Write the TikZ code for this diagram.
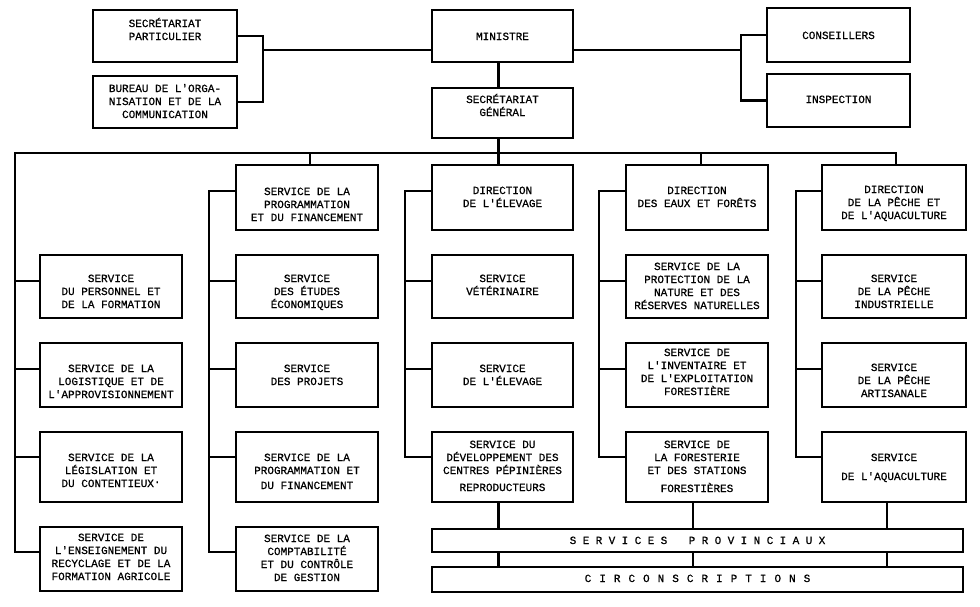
\documentclass[tikz,border=0pt]{standalone}
\usepackage{fontspec}
\newfontfamily\plotfont[FakeBold=0.7]{Liberation Mono}
\newcommand\lsA{\hspace{6.4pt}}
\newcommand\lsB{\hspace{8pt}}
\newcommand\mybox[7]{%
  \node[box, minimum width={(#4)-(#2)}, minimum height={(#5)-(#3)}] (#1) at ({((#2)+(#4))/2},{((#3)+(#5))/2}) {};
  \node[txt, anchor=north] (#1t) at ({((#2)+(#4))/2},{(#6)-6.2}) {\rule{0pt}{10pt}#7};
}
\tikzset{
  box/.style={draw, line width=2.4pt, inner sep=0pt},
  txt/.style={font=\plotfont\fontsize{11}{13}\selectfont, align=center, inner sep=0pt},
  ln/.style={line width=2.2pt, line join=miter}
}
\begin{document}
\begin{tikzpicture}[x=1pt,y=-1pt]
\useasboundingbox (0,0) rectangle (980,606);
% top level
\mybox{sp}{93}{10}{237}{62}{23}{SECRÉTARIAT\\PARTICULIER}
\mybox{bu}{93}{76}{237}{128}{88}{BUREAU DE L'ORGA-\\NISATION ET DE LA\\COMMUNICATION}
\mybox{min}{432}{10}{573}{62}{36}{MINISTRE}
\mybox{sg}{432}{88}{573}{138}{99}{SECRÉTARIAT\\GÉNÉRAL}
\mybox{cons}{767}{8}{910}{62}{35}{CONSEILLERS}
\mybox{insp}{767}{74}{910}{127}{99}{INSPECTION}
% row 0
\mybox{r0c2}{236}{165}{378}{230}{191}{SERVICE DE LA\\PROGRAMMATION\\ET DU FINANCEMENT}
\mybox{r0c3}{432}{165}{573}{230}{190}{DIRECTION\\DE L'ÉLEVAGE}
\mybox{r0c4}{626}{165}{768}{230}{190}{DIRECTION\\DES EAUX ET FORÊTS}
\mybox{r0c5}{822}{165}{966}{230}{189}{DIRECTION\\DE LA PÊCHE ET\\DE L'AQUACULTURE}
% row 1
\mybox{r1c1}{40}{255}{182}{318}{278}{SERVICE\\DU PERSONNEL ET\\DE LA FORMATION}
\mybox{r1c2}{236}{255}{378}{318}{278}{SERVICE\\DES ÉTUDES\\ÉCONOMIQUES}
\mybox{r1c3}{432}{255}{573}{318}{278}{SERVICE\\VÉTÉRINAIRE}
\mybox{r1c4}{626}{255}{768}{318}{266}{SERVICE DE LA\\PROTECTION DE LA\\NATURE ET DES\\RÉSERVES NATURELLES}
\mybox{r1c5}{822}{255}{966}{318}{278}{SERVICE\\DE LA PÊCHE\\INDUSTRIELLE}
% row 2
\mybox{r2c1}{40}{343}{182}{407}{368}{SERVICE DE LA\\LOGISTIQUE ET DE\\L'APPROVISIONNEMENT}
\mybox{r2c2}{236}{343}{378}{407}{368}{SERVICE\\DES PROJETS}
\mybox{r2c3}{432}{343}{573}{407}{368}{SERVICE\\DE L'ÉLEVAGE}
\mybox{r2c4}{626}{343}{768}{407}{352}{SERVICE DE\\L'INVENTAIRE ET\\DE L'EXPLOITATION\\FORESTIÈRE}
\mybox{r2c5}{822}{343}{966}{407}{367}{SERVICE\\DE LA PÊCHE\\ARTISANALE}
% row 3
\mybox{r3c1}{40}{432}{182}{502}{457}{SERVICE DE LA\\LÉGISLATION ET\\DU CONTENTIEUX\raisebox{4pt}{.}}
\mybox{r3c2}{236}{432}{378}{502}{457}{SERVICE DE LA\\PROGRAMMATION ET\\[2pt]DU FINANCEMENT}
\mybox{r3c3}{432}{432}{573}{502}{444}{SERVICE DU\\DÉVELOPPEMENT DES\\CENTRES PÉPINIÈRES\\[4pt]REPRODUCTEURS}
\mybox{r3c4}{626}{432}{768}{502}{444}{SERVICE DE\\LA FORESTERIE\\ET DES STATIONS\\[5pt]FORESTIÈRES}
\mybox{r3c5}{822}{432}{966}{502}{457}{SERVICE\\[6pt]DE L'AQUACULTURE}
% row 4
\mybox{r4c1}{40}{527}{182}{591}{537}{SERVICE DE\\L'ENSEIGNEMENT DU\\RECYCLAGE ET DE LA\\FORMATION AGRICOLE}
\mybox{r4c2}{236}{527}{378}{591}{538}{SERVICE DE LA\\COMPTABILITÉ\\ET DU CONTRÔLE\\DE GESTION}
% bottom bars
\mybox{prov}{432}{529}{963}{552}{540}{S\lsA E\lsA R\lsA V\lsA I\lsA C\lsA E\lsA S\hspace{21.4pt}P\lsA R\lsA O\lsA V\lsA I\lsA N\lsA C\lsA I\lsA A\lsA U\lsA X}
\mybox{circ}{432}{567}{963}{592}{578}{C\lsB I\lsB R\lsB C\lsB O\lsB N\lsB S\lsB C\lsB R\lsB I\lsB P\lsB T\lsB I\lsB O\lsB N\lsB S}
% top connectors
\coordinate (jl) at (263,50);
\draw[ln] (sp.east) -| (jl) |- (bu.east);
\draw[ln] (jl) -- (jl -| min.west);
\coordinate (jr) at (741,50);
\draw[ln] (jr -| min.east) -- (jr);
\draw[ln] (cons.west) -| (jr) |- (insp.west);
\coordinate (m1) at ([xshift=-4pt]min.south);
\coordinate (m2) at ([xshift=-4pt]sg.north);
\coordinate (m3) at ([xshift=-4pt]sg.south);
\coordinate (m4) at ([xshift=-4pt]r0c3.north);
\draw[ln] (m1) -- (m2);
\draw[ln] (m3) -- (m4);
% bus
\coordinate (busL) at (15,153);
\coordinate (busR) at (896,153);
\coordinate (k1e) at (15,552);
\draw[ln] (k1e -| r4c1.west) -- (k1e) -- (busL) -- (busR) -- (busR |- r0c5.north);
\coordinate (d2) at ([xshift=3pt]r0c2.north);
\coordinate (d4) at ([xshift=4pt]r0c4.north);
\draw[ln] (d2 |- busL) -- (d2);
\draw[ln] (d4 |- busL) -- (d4);
% column 1 stubs
\coordinate (k1a) at (15,281);
\coordinate (k1b) at (15,369);
\coordinate (k1c) at (15,457);
\draw[ln] (k1a) -- (k1a -| r1c1.west);
\draw[ln] (k1b) -- (k1b -| r2c1.west);
\draw[ln] (k1c) -- (k1c -| r3c1.west);
% column 2
\coordinate (k2t) at (209,191);
\coordinate (k2e) at (209,552);
\draw[ln] (k2t -| r0c2.west) -- (k2t) -- (k2e) -- (k2e -| r4c2.west);
\coordinate (k2a) at (209,281);
\coordinate (k2b) at (209,369);
\coordinate (k2c) at (209,457);
\draw[ln] (k2a) -- (k2a -| r1c2.west);
\draw[ln] (k2b) -- (k2b -| r2c2.west);
\draw[ln] (k2c) -- (k2c -| r3c2.west);
% column 3
\coordinate (k3t) at (405,191);
\coordinate (k3e) at (405,457);
\draw[ln] (k3t -| r0c3.west) -- (k3t) -- (k3e) -- (k3e -| r3c3.west);
\coordinate (k3a) at (405,281);
\coordinate (k3b) at (405,369);
\draw[ln] (k3a) -- (k3a -| r1c3.west);
\draw[ln] (k3b) -- (k3b -| r2c3.west);
% column 4
\coordinate (k4t) at (599,191);
\coordinate (k4e) at (599,457);
\draw[ln] (k4t -| r0c4.west) -- (k4t) -- (k4e) -- (k4e -| r3c4.west);
\coordinate (k4a) at (599,281);
\coordinate (k4b) at (599,369);
\draw[ln] (k4a) -- (k4a -| r1c4.west);
\draw[ln] (k4b) -- (k4b -| r2c4.west);
% column 5
\coordinate (k5t) at (796,191);
\coordinate (k5e) at (796,457);
\draw[ln] (k5t -| r0c5.west) -- (k5t) -- (k5e) -- (k5e -| r3c5.west);
\coordinate (k5a) at (796,281);
\coordinate (k5b) at (796,369);
\draw[ln] (k5a) -- (k5a -| r1c5.west);
\draw[ln] (k5b) -- (k5b -| r2c5.west);
% drops to provincial services and circonscriptions
\coordinate (p3) at ([xshift=-4pt]r3c3.south);
\coordinate (p4) at ([xshift=-4pt]r3c4.south);
\coordinate (p5) at ([xshift=-7pt]r3c5.south);
\draw[ln] (p3) -- (p3 |- prov.north);
\draw[ln] (p4) -- (p4 |- prov.north);
\draw[ln] (p5) -- (p5 |- prov.north);
\draw[ln] (p3 |- prov.south) -- (p3 |- circ.north);
\draw[ln] (p4 |- prov.south) -- (p4 |- circ.north);
\draw[ln] (p5 |- prov.south) -- (p5 |- circ.north);
\end{tikzpicture}
\end{document}
